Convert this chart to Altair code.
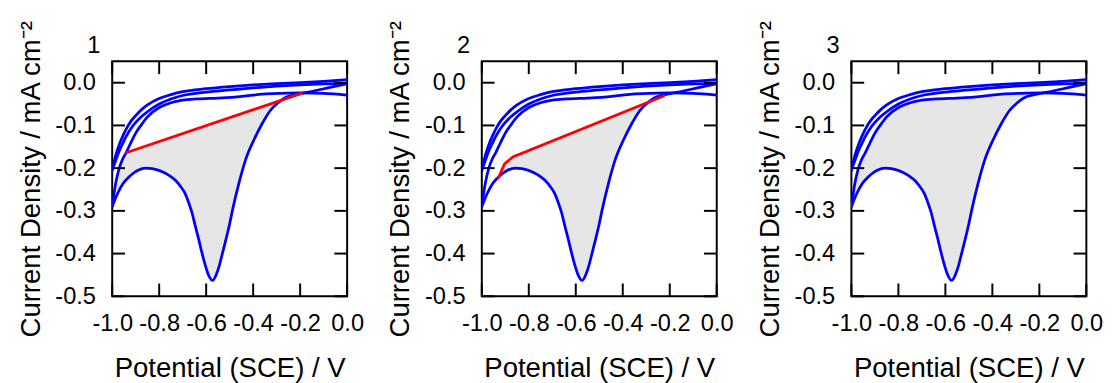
import altair as alt
import pandas as pd

T_x = [-1.0, -0.985, -0.97, -0.955, -0.94, -0.92, -0.9, -0.875, -0.85, -0.8, -0.75, -0.7, -0.6, -0.5, -0.4, -0.3, -0.2, -0.1, 0.0]
T_y = [-0.205, -0.17, -0.145, -0.125, -0.108, -0.090, -0.077, -0.063, -0.052, -0.037, -0.028, -0.021, -0.014, -0.009, -0.005, -0.002, 0.000, 0.003, 0.007]
M_x = [-1.0, -0.985, -0.97, -0.955, -0.94, -0.92, -0.9, -0.875, -0.85, -0.8, -0.75, -0.7, -0.6, -0.5, -0.4, -0.3, -0.2, -0.1, 0.0]
M_y = [-0.205, -0.182, -0.160, -0.142, -0.125, -0.107, -0.093, -0.079, -0.068, -0.050, -0.038, -0.030, -0.022, -0.017, -0.012, -0.008, -0.005, -0.003, -0.002]
R_x = [-1.0, -0.985, -0.97, -0.955, -0.941, -0.92, -0.9, -0.875, -0.85, -0.8, -0.75, -0.7, -0.64, -0.55, -0.48, -0.43, -0.36, -0.28, -0.2, -0.1, 0.0]
R_y = [-0.29, -0.235, -0.200, -0.178, -0.164, -0.140, -0.118, -0.098, -0.080, -0.058, -0.047, -0.041, -0.038, -0.036, -0.034, -0.031, -0.027, -0.025, -0.024, -0.025, -0.029]
P_x = [-1.0, -0.975, -0.955, -0.933, -0.91, -0.89, -0.856, -0.83, -0.808, -0.78, -0.752, -0.73, -0.71, -0.69,
       -0.675, -0.66, -0.647, -0.633, -0.619, -0.605, -0.59, -0.573, -0.557, -0.545, -0.536, -0.515, -0.5,
       -0.487, -0.46, -0.432, -0.397, -0.362, -0.327, -0.292, -0.264, -0.23, -0.194, -0.138, -0.082, 0.0]
P_y = [-0.29, -0.257, -0.237, -0.223, -0.212, -0.205, -0.200, -0.201, -0.204, -0.210, -0.219, -0.229, -0.242, -0.259,
       -0.280, -0.305, -0.334, -0.364, -0.396, -0.425, -0.450, -0.463, -0.449, -0.430, -0.411, -0.365, -0.330,
       -0.296, -0.234, -0.180, -0.134, -0.096, -0.065, -0.046, -0.035, -0.029, -0.025, -0.019, -0.012, -0.002]

red1_x = [-0.941, -0.194]
red1_y = [-0.164, -0.025]
red2_x = [-0.93, -0.903, -0.868, -0.226]
red2_y = [-0.223, -0.190, -0.174, -0.031]

panel_labels = ["1", "2", "3"]
x_ticks = [-1.0, -0.8, -0.6, -0.4, -0.2, 0.0]
y_ticks = [0.0, -0.1, -0.2, -0.3, -0.4, -0.5]
x_domain = [-1.0, 0.0]
y_domain = [-0.5, 0.05]

FONT = "Liberation Sans"
W, H = 239, 239
TICK = 13

blue_rows = []
for name, xs_, ys_ in [("T", T_x, T_y), ("M", M_x, M_y), ("R", R_x, R_y), ("P", P_x, P_y)]:
    for i, (a, b) in enumerate(zip(xs_, ys_)):
        blue_rows.append({"curve": name, "i": i, "x": a, "y": b})
blue_df = pd.DataFrame(blue_rows)


def polygon(upper_x, upper_y, x_hi, x_lo):
    pts = list(zip(upper_x, upper_y))
    low = [(a, b) for a, b in zip(P_x, P_y) if x_lo - 1e-9 <= a <= x_hi + 1e-9]
    pts += low[::-1]
    return pd.DataFrame({"i": range(len(pts)), "x": [p[0] for p in pts], "y": [p[1] for p in pts]})


fill1 = polygon([a for a in R_x if a <= -0.941] + [red1_x[1]],
                [b for a, b in zip(R_x, R_y) if a <= -0.941] + [red1_y[1]], -0.194, -1.0)
fill2 = polygon(red2_x, red2_y, -0.23, -0.933)
fill3 = polygon([a for a in R_x if a <= -0.2], [b for a, b in zip(R_x, R_y) if a <= -0.2], -0.194, -1.0)

xt_df = pd.DataFrame({"x": x_ticks})
yt_df = pd.DataFrame({"y": y_ticks})

lbl_expr = "replace(format(datum.value, '.1f'), '\u2212', '-')"

AX_X = alt.Axis(orient="bottom", values=x_ticks, labelExpr=lbl_expr, ticks=False, tickSize=0,
                domain=False, grid=False, labelPadding=16, labelFont=FONT, labelFontSize=24,
                labelColor="black", labelFlush=False, labelOverlap=False, title="Potential (SCE) / V",
                titleFont=FONT, titleFontSize=28, titleFontWeight="normal", titleColor="black",
                titlePadding=20)
AX_Y = alt.Axis(orient="left", values=y_ticks, labelExpr=lbl_expr, ticks=False, tickSize=0,
                domain=False, grid=False, labelPadding=17, labelFont=FONT, labelFontSize=24,
                labelColor="black", labelFlush=False, labelOverlap=False,
                title="Current Density / mA cm\u207b\u00b2", titleFont=FONT, titleFontSize=28,
                titleFontWeight="normal", titleColor="black", titlePadding=10)


def xs():
    return alt.X("x:Q", scale=alt.Scale(domain=x_domain, nice=False, zero=False), axis=AX_X)


def ys():
    return alt.Y("y:Q", scale=alt.Scale(domain=y_domain, nice=False, zero=False), axis=AX_Y)


def panel(label, fill_df, red_x, red_y):
    fill = alt.Chart(fill_df).mark_line(fill="#e6e6e6", stroke="#e6e6e6", strokeWidth=0.5,
                                        interpolate="linear").encode(x=xs(), y=ys(), order="i:Q")
    blue = alt.Chart(blue_df).mark_line(color="#0000ff", strokeWidth=2.8, interpolate="monotone",
                                        strokeCap="round", clip=True).encode(
        x=xs(), y=ys(), detail="curve:N", order="i:Q")
    layers = [fill, blue]
    if red_x:
        red_df = pd.DataFrame({"i": range(len(red_x)), "x": red_x, "y": red_y})
        layers.append(alt.Chart(red_df).mark_line(color="#ff0000", strokeWidth=2.8, strokeCap="round").encode(
            x=xs(), y=ys(), order="i:Q"))
    tick = dict(color="#000000", stroke="#000000", strokeWidth=2, opacity=1)
    layers += [
        alt.Chart(xt_df).mark_rule(**tick).encode(x=xs(), y=alt.value(H), y2=alt.value(H - TICK)),
        alt.Chart(xt_df).mark_rule(**tick).encode(x=xs(), y=alt.value(0), y2=alt.value(TICK)),
        alt.Chart(yt_df).mark_rule(**tick).encode(y=ys(), x=alt.value(0), x2=alt.value(TICK)),
        alt.Chart(yt_df).mark_rule(**tick).encode(y=ys(), x=alt.value(W), x2=alt.value(W - TICK)),
    ]
    lab_df = pd.DataFrame({"x": [x_domain[0]], "y": [y_domain[1]], "t": [label]})
    layers.append(alt.Chart(lab_df).mark_text(align="right", baseline="alphabetic", dx=-12, dy=-8,
                                              fontSize=24, font=FONT, color="black").encode(
        x=xs(), y=ys(), text="t:N"))
    return alt.layer(*layers).properties(width=W, height=H)


chart = alt.hconcat(
    panel(panel_labels[0], fill1, red1_x, red1_y),
    panel(panel_labels[1], fill2, red2_x, red2_y),
    panel(panel_labels[2], fill3, [], []),
    spacing=21,
).configure_view(stroke="#000000", strokeWidth=2).properties(
    padding={"left": 8, "top": 7, "right": 2, "bottom": 0}, background="white")

chart.save("out.html", embed_options={"renderer": "svg", "actions": False})
